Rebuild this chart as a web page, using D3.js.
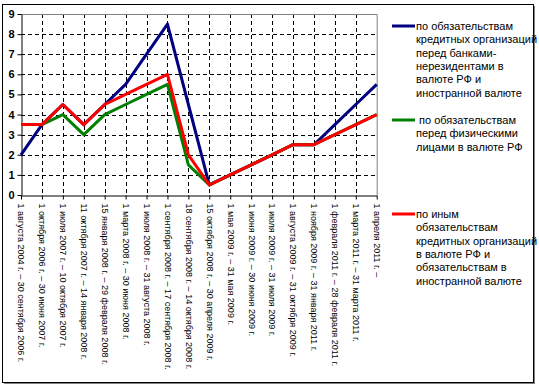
<!DOCTYPE html>
<html>
<head>
<meta charset="utf-8">
<script src="https://cdn.jsdelivr.net/npm/d3@7"></script>
<style>
  body { margin: 0; background: #fff; }
  svg { display: block; font-family: "Liberation Sans", Arial, sans-serif; }
</style>
</head>
<body>
<script>
// periods (x categories)
var periods = [
    '1 августа 2004 г. – 30 сентября 2006 г.',
    '1 октября 2006 г. – 30 июня 2007 г.',
    '1 июля 2007 г. – 10 октября 2007 г.',
    '11 октября 2007 г. – 14 января 2008 г.',
    '15 января 2008 г. – 29 февраля 2008 г.',
    '1 марта 2008 г. – 30 июня 2008 г.',
    '1 июля 2008 г. – 31 августа 2008 г.',
    '1 сентября 2008 г. – 17 сентября 2008 г.',
    '18 сентября 2008 г. – 14 октября 2008 г.',
    '15 октября 2008 г. – 30 апреля 2009 г.',
    '1 мая 2009 г. – 31 мая 2009 г.',
    '1 июня 2009 г. – 30 июня 2009 г.',
    '1 июля 2009 г. – 31 июля 2009 г.',
    '1 августа 2009 г. – 31 октября 2009 г.',
    '1 ноября 2009 г. – 31 января 2011 г.',
    '1 февраля 2011 г. – 28 февраля 2011 г.',
    '1 марта 2011 г. – 31 марта 2011 г.',
    '1 апреля 2011 г. –'
];

var nonResidents = [2, 3.5, 4.5, 3.5, 4.5, 5.5, 7, 8.5, 4.5, 0.5, 1, 1.5, 2, 2.5, 2.5, 3.5, 4.5, 5.5];
var individuals  = [3.5, 3.5, 4, 3, 4, 4.5, 5, 5.5, 1.5, 0.5, 1, 1.5, 2, 2.5, 2.5, 3, 3.5, 4];
var otherLiab    = [3.5, 3.5, 4.5, 3.5, 4.5, 5, 5.5, 6, 2, 0.5, 1, 1.5, 2, 2.5, 2.5, 3, 3.5, 4];

var yTicks = [0, 1, 2, 3, 4, 5, 6, 7, 8, 9];

var seriesNames = [
    ['по обязательствам', 'кредитных организаций', 'перед банками-', 'нерезидентами в', 'валюте РФ и', 'иностранной валюте'],
    [' по обязательствам', 'перед физическими', 'лицами в валюте РФ'],
    ['по иным', 'обязательствам', 'кредитных организаций', 'в валюте РФ и', 'обязательствам в', 'иностранной валюте']
];
var seriesColors = ['#000080', '#008000', '#ff0000'];

var W = 539, H = 387;
var plotL = 21, plotR = 376.7, plotT = 14, plotB = 195;

var svg = d3.select('body').append('svg').attr('width', W).attr('height', H);

// outer frame with shadow
svg.append('rect').attr('x', 4).attr('y', 6).attr('width', 531).attr('height', 378)
    .attr('fill', '#808080');
svg.append('rect').attr('x', 2.5).attr('y', 4.5).attr('width', 531).attr('height', 378)
    .attr('fill', '#fff').attr('stroke', '#000').attr('stroke-width', 1);

var x = d3.scalePoint().domain(d3.range(periods.length)).range([plotL, plotR]);
var y = d3.scaleLinear().domain([0, 9]).range([plotB, plotT]);

// grid
var g = svg.append('g');
g.selectAll('.hg').data(yTicks.filter(function(d) { return d > 0 && d < 9; }))
    .enter().append('line')
    .attr('x1', plotL).attr('x2', plotR)
    .attr('y1', function(d) { return Math.round(y(d)) + 0.5; }).attr('y2', function(d) { return Math.round(y(d)) + 0.5; })
    .attr('stroke', '#000').attr('stroke-dasharray', '4,3');
g.selectAll('.vg').data(d3.range(1, periods.length - 1))
    .enter().append('line')
    .attr('x1', function(d) { return Math.round(x(d)) + 0.5; }).attr('x2', function(d) { return Math.round(x(d)) + 0.5; })
    .attr('y1', plotT).attr('y2', plotB)
    .attr('stroke', '#000').attr('stroke-dasharray', '4,3');
// plot border top/right
g.append('path').attr('d', 'M' + plotL + ',' + (plotT + 0.5) + 'H' + (plotR + 0.5) + 'V' + plotB)
    .attr('fill', 'none').attr('stroke', '#808080').attr('stroke-width', 1);

// axes
var yAxis = svg.append('g').attr('transform', 'translate(' + (plotL + 0.5) + ',0)')
    .call(d3.axisLeft(y).tickValues(yTicks).tickSize(4).tickSizeOuter(0).tickPadding(3).tickFormat(d3.format('d')));
yAxis.select('.domain').attr('stroke', '#000');
yAxis.selectAll('text').style('font-size', '11px').style('font-weight', 'bold').attr('fill', '#000');

var xAxis = svg.append('g').attr('transform', 'translate(0,' + (plotB + 0.5) + ')')
    .call(d3.axisBottom(x).tickSize(4).tickSizeOuter(0).tickFormat(function(i) { return periods[i]; }));
xAxis.select('.domain').attr('stroke', '#000');
xAxis.selectAll('text')
    .style('font-size', '9px').attr('fill', '#000')
    .attr('text-anchor', 'start')
    .attr('transform', 'rotate(90)')
    .attr('x', 8).attr('y', 0).attr('dy', '0.35em');

// lines
var line = d3.line().x(function(d, i) { return x(i); }).y(function(d) { return y(d); });
[nonResidents, individuals, otherLiab].forEach(function(s, k) {
    svg.append('path').datum(s).attr('d', line)
        .attr('fill', 'none').attr('stroke', seriesColors[k]).attr('stroke-width', 3)
        .attr('stroke-linejoin', 'round');
});

// legend
var legendY = [26, 120, 214];
seriesNames.forEach(function(lines, k) {
    var lg = svg.append('g').attr('transform', 'translate(392,' + legendY[k] + ')');
    lg.append('line').attr('x1', 0).attr('x2', 23).attr('y1', 0).attr('y2', 0)
        .attr('stroke', seriesColors[k]).attr('stroke-width', 3);
    lg.append('text').attr('x', 24).attr('y', 0).style('font-size', '11px').attr('fill', '#000')
        .selectAll('tspan').data(lines).enter().append('tspan')
        .attr('x', 24).attr('dy', function(d, i) { return i === 0 ? '0.35em' : '13.4px'; })
        .style('white-space', 'pre')
        .text(function(d) { return d; });
});
</script>
</body>
</html>
